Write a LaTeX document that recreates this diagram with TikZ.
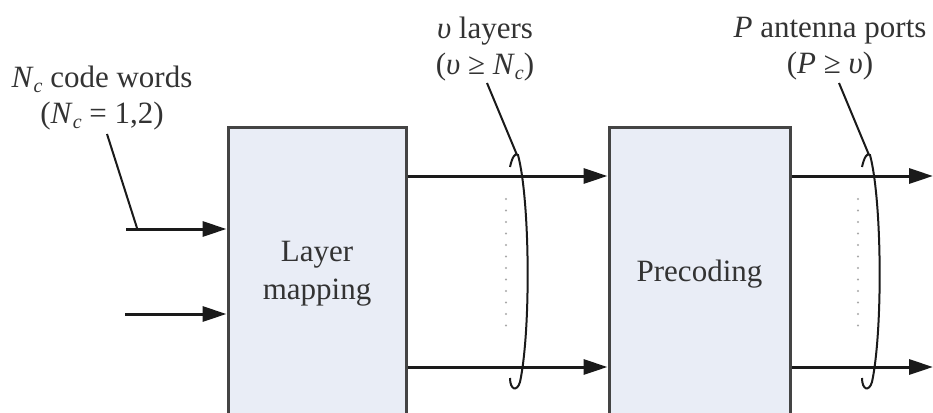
\documentclass[tikz,border=0pt]{standalone}
\usepackage{fontspec}
\setmainfont{Liberation Serif}
\usetikzlibrary{arrows.meta}
\definecolor{boxfill}{HTML}{E9EDF6}
\definecolor{boxline}{HTML}{444444}
\definecolor{txt}{HTML}{333333}
\definecolor{ln}{HTML}{1A1A1A}
\definecolor{dotc}{HTML}{A8A8A8}
\newcommand\subsc[1]{\raisebox{-0.35ex}{\fontsize{20}{20}\selectfont\itshape #1}}
\newcommand\gu{\textit{υ}}
\begin{document}
\begin{tikzpicture}[x=1pt,y=-1pt,
  blk/.style={draw=boxline, line width=3pt, fill=boxfill, minimum width=178pt,
    minimum height=294pt, inner sep=0pt, text=txt, align=center,
    font=\fontsize{31}{38}\selectfont},
  arr/.style={draw=ln, line width=3pt, -{Triangle[length=24pt,width=15pt]}},
  lead/.style={draw=ln, line width=2pt},
  brc/.style={draw=ln, line width=2pt},
  dotline/.style={draw=dotc, line width=2.2pt, line cap=round, dash pattern=on 0pt off 11.5pt},
  lab/.style={text=txt, align=center, font=\fontsize{31}{36}\selectfont, inner sep=0pt}]
\clip (0,0) rectangle (933,412);
\fill[white] (0,0) rectangle (933,412);

\node[blk] (lm) at (317,274) {Layer\\mapping};
\node[blk, minimum width=181pt] (pc) at (699.5,274) {Precoding};

% inputs
\coordinate (i1) at (126,229);
\coordinate (i2) at (125,314);
\draw[arr] (i1) -- (i1 -| lm.west);
\draw[arr] (i2) -- (i2 -| lm.west);

% layer outputs
\coordinate (ya) at (0,176);
\coordinate (yb) at (0,367);
\coordinate (e1) at (933,176);
\coordinate (e2) at (933,367);
\draw[arr] (lm.east |- ya) -- (pc.west |- ya);
\draw[arr] (lm.east |- yb) -- (pc.west |- yb);
\draw[arr] (pc.east |- ya) -- (e1);
\draw[arr] (pc.east |- yb) -- (e2);

% labels
\node[lab] (t1) at (102,98) {\textit{N}\subsc{c} code words\\(\textit{N}\subsc{c} = 1,2)};
\node[lab] (t2) at (485,49) {\gu{} layers\\(\gu{} ≥ \textit{N}\subsc{c})};
\node[lab] (t3) at (830,49) {\textit{P} antenna ports\\(\textit{P} ≥ \gu)};

% leader for code words
\coordinate (a1) at (107,134);
\coordinate (b1) at (137,228);
\draw[lead] (a1) -- (b1);

% braces, leaders, dots
\foreach \dx in {0,352} {
  \begin{scope}[xshift=\dx pt]
    \coordinate (la) at (487,83);
    \coordinate (lb) at (517,155);
    \draw[lead] (la) -- (lb);
    \draw[brc] (510,167) .. controls (512,158) and (515,152) .. (518,155)
      .. controls (530,200) and (531,330) .. (520,382)
      .. controls (517,392) and (510,390) .. (510,378);
    \coordinate (da) at (506,199);
    \coordinate (db) at (506,335);
    \draw[dotline] (da) -- (db);
  \end{scope}
}
\end{tikzpicture}
\end{document}
